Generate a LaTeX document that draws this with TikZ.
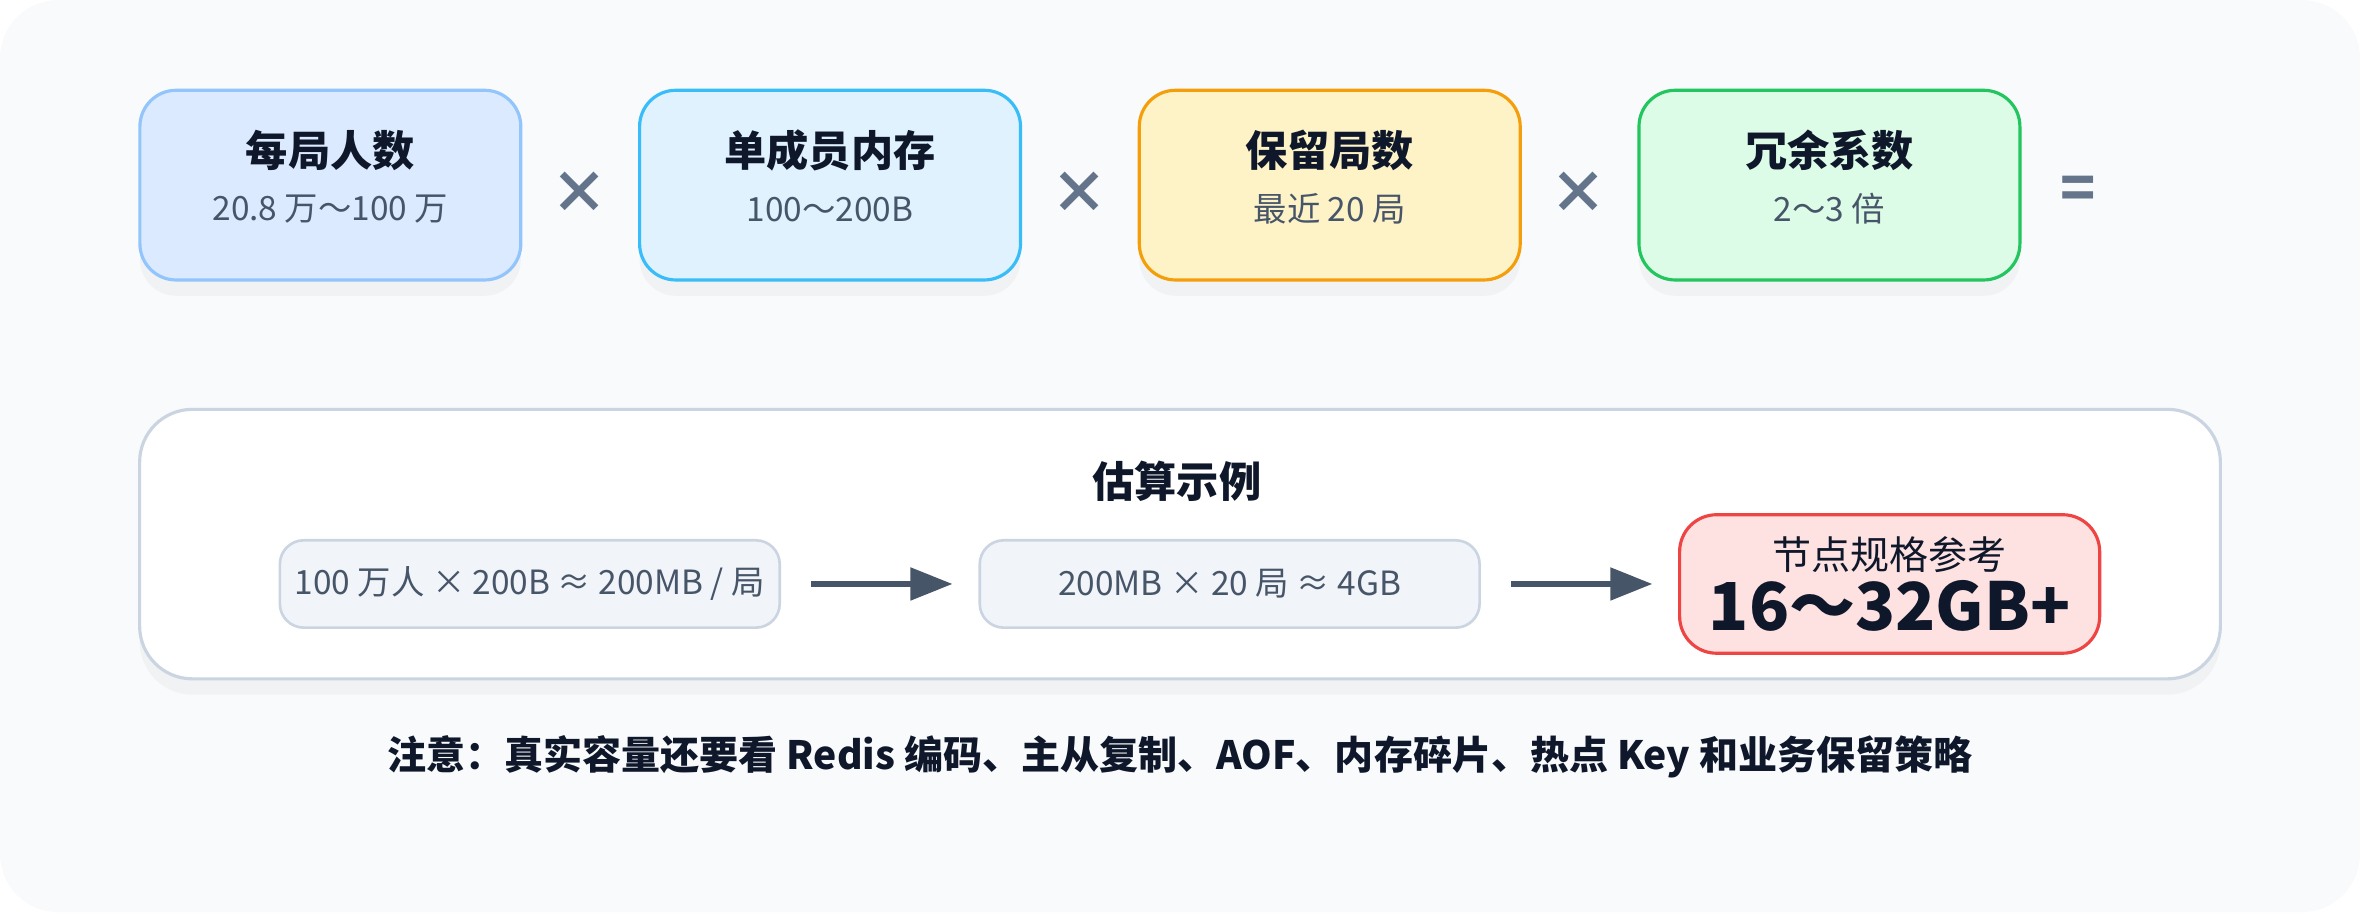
\documentclass[tikz,border=0pt]{standalone}
\usepackage{fontspec}
\setmainfont{Noto Sans CJK SC}
\usepackage{tikz}
\usetikzlibrary{arrows.meta,%
                shapes,positioning,shadows}
\definecolor{bgc}{HTML}{F8FAFC}
\definecolor{ink}{HTML}{0F172A}
\definecolor{sub}{HTML}{475569}
\definecolor{opc}{HTML}{64748B}
\definecolor{arw}{HTML}{475569}
\definecolor{bluef}{HTML}{DBEAFE}\definecolor{blued}{HTML}{93C5FD}
\definecolor{skyf}{HTML}{E0F2FE}\definecolor{skyd}{HTML}{38BDF8}
\definecolor{ambf}{HTML}{FEF3C7}\definecolor{ambd}{HTML}{F59E0B}
\definecolor{grnf}{HTML}{DCFCE7}\definecolor{grnd}{HTML}{22C55E}
\definecolor{redf}{HTML}{FEE2E2}\definecolor{redd}{HTML}{EF4444}
\definecolor{stepf}{HTML}{F1F5F9}\definecolor{stepd}{HTML}{CBD5E1}

\begin{document}
\begin{tikzpicture}[x=0.01505cm,y=-0.01505cm,
  factor/.style={rounded corners=10.3pt, minimum width=253*0.4282pt, minimum height=126*0.4282pt,
                 line width=0.9pt, align=center, drop shadow={opacity=0.06,shadow xshift=0pt,shadow yshift=-4.5pt}},
  stepbox/.style={draw=stepd, fill=stepf, rounded corners=6.8pt, minimum width=332*0.4282pt,
                  minimum height=58*0.4282pt, line width=0.75pt, font=\fontsize{9.5}{10}\selectfont, text=sub},
  oper/.style={text=opc, font=\fontsize{16.5}{17}\selectfont\bfseries},
  flow/.style={-{Triangle[length=12pt,width=9pt]}, line width=1.8pt, draw=arw}]
\useasboundingbox (0,0) rectangle (1568,606);
\fill[bgc, rounded corners=16.5pt] (0,0) rectangle (1568,606);
% factors
\node[factor, draw=blued, fill=bluef] (people) at (219.5,123) {};
\node[factor, draw=skyd, fill=skyf] (member) at (551.5,123) {};
\node[factor, draw=ambd, fill=ambf] (rounds) at (883.5,123) {};
\node[factor, draw=grnd, fill=grnf] (spare) at (1215.5,123) {};
\foreach \n/\t/\s in {people/每局人数/20.8 万～100 万, member/单成员内存/100～200B,
                      rounds/保留局数/最近 20 局, spare/冗余系数/2～3 倍}{
  \node[text=ink, font=\fontsize{12}{13}\selectfont\bfseries] at ([yshift=9.8pt]\n.center) {\t};
  \node[text=sub, font=\fontsize{9.5}{10}\selectfont] at ([yshift=-6.8pt]\n.center) {\s};
}
\node[oper] (x1) at (385,128) {×};
\node[oper] (x2) at (717,128) {×};
\node[oper] (x3) at (1049,128) {×};
\node[oper] (eq) at (1381,128) {=};
% example panel
\node[draw=stepd, fill=white, rounded corners=15pt, minimum width=1382*0.4282pt, minimum height=179*0.4282pt,
      line width=0.9pt, drop shadow={opacity=0.06,shadow xshift=0pt,shadow yshift=-4.5pt}] (panel) at (784,361.5) {};
\node[text=ink, font=\fontsize{12}{13}\selectfont\bfseries] (ptitle) at (782,320) {估算示例};
\node[stepbox] (perround) at (352,388) {100 万人 × 200B ≈ 200MB / 局};
\node[stepbox] (total) at (817,388) {200MB × 20 局 ≈ 4GB};
\node[draw=redd, fill=redf, rounded corners=10.5pt, minimum width=279*0.4282pt, minimum height=92*0.4282pt,
      line width=0.9pt] (node) at (1255.5,388) {};
\node[text=ink, font=\fontsize{11.1}{12}\selectfont] at ([yshift=8.3pt]node.center) {节点规格参考};
\node[text=ink, font=\fontsize{18.8}{19}\selectfont\bfseries] at ([yshift=-6.3pt]node.center) {16～32GB+};
\draw[flow] (perround.east) ++(20,0) coordinate (a1) -- ++(94,0) coordinate (b1);
\draw[flow] (total.east) ++(20,0) coordinate (a2) -- ++(94,0) coordinate (b2);
% note
\node[text=ink, font=\fontsize{11.1}{12}\selectfont\bfseries] (note) at (784,503)
  {注意：真实容量还要看 Redis 编码、主从复制、AOF、内存碎片、热点 Key 和业务保留策略};
\end{tikzpicture}
\end{document}
